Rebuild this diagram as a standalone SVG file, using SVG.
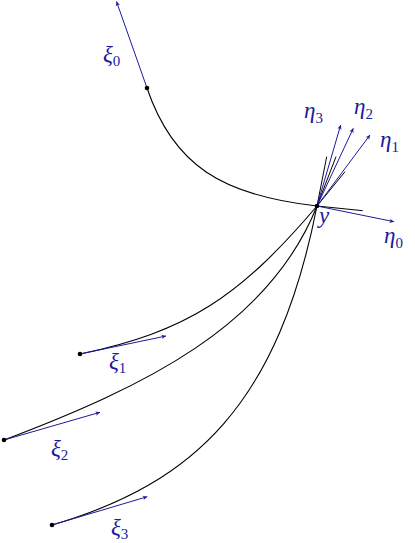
<svg xmlns="http://www.w3.org/2000/svg" width="415" height="543" viewBox="0 0 415 543">
<defs>
<marker id="ah" viewBox="-5 -3 6 6" refX="0" refY="0" markerWidth="6" markerHeight="6" markerUnits="userSpaceOnUse" orient="auto">
<path d="M0,0 L-4.5,-2.2 L-3.2,0 L-4.5,2.2 Z" fill="#1a1a9a"/>
</marker>
<style>
.crv{fill:none;stroke:#000;stroke-width:1.1}
.tan{fill:none;stroke:#000;stroke-width:1}
.vec{fill:none;stroke:#1a1a9a;stroke-width:1;marker-end:url(#ah)}
.dot{fill:#000}
.lbl{font-family:"Liberation Serif","Times New Roman",serif;font-style:italic;font-size:23px;fill:#1a1a9a}
.sub{font-family:"Liberation Serif","Times New Roman",serif;font-style:normal;font-size:15px;fill:#1a1a9a}
</style>
</defs>
<rect width="415" height="543" fill="#fff"/>
<g id="connectors">
<path class="crv" d="M147,88 C173,165 222,195.5 317,206"/>
<path class="crv" d="M80,354 C187.7,331.4 239.2,297.4 317,206"/>
<path class="crv" d="M4,440 C144.3,386.8 268.8,326.8 317,206"/>
<path class="crv" d="M52,525 C196,483 278.4,402.2 317,206"/>
<line class="tan" x1="317" y1="206" x2="362.7" y2="210.7"/>
<line class="tan" x1="317" y1="206" x2="345" y2="171.7"/>
<line class="tan" x1="317" y1="206" x2="336" y2="156.7"/>
<line class="tan" x1="317" y1="206" x2="326.7" y2="156.7"/>
<line class="vec" x1="147" y1="88" x2="116.5" y2="1.5"/>
<line class="vec" x1="80" y1="354" x2="166" y2="336"/>
<line class="vec" x1="4" y1="440" x2="100" y2="412.3"/>
<line class="vec" x1="52" y1="525" x2="147.3" y2="496.7"/>
<line class="vec" x1="317" y1="206" x2="394" y2="221.7"/>
<line class="vec" x1="317" y1="206" x2="370" y2="135"/>
<line class="vec" x1="317" y1="206" x2="353.3" y2="128.3"/>
<line class="vec" x1="317" y1="206" x2="340.7" y2="125"/>
</g>
<g id="x0"><circle class="dot" cx="147" cy="88" r="2.3"/><text class="lbl" x="103" y="62">ξ<tspan class="sub" dy="4">0</tspan></text></g>
<g id="x1"><circle class="dot" cx="80" cy="354" r="2.3"/><text class="lbl" x="109" y="369">ξ<tspan class="sub" dy="4">1</tspan></text></g>
<g id="x2"><circle class="dot" cx="4" cy="440" r="2.3"/><text class="lbl" x="51" y="456">ξ<tspan class="sub" dy="4">2</tspan></text></g>
<g id="x3"><circle class="dot" cx="52" cy="525" r="2.3"/><text class="lbl" x="111" y="535">ξ<tspan class="sub" dy="4">3</tspan></text></g>
<g id="y"><circle class="dot" cx="317" cy="206" r="2.3"/><text class="lbl" x="319" y="223">y</text>
<text class="lbl" x="384" y="243">η<tspan class="sub" dy="5">0</tspan></text>
<text class="lbl" x="380" y="147">η<tspan class="sub" dy="5">1</tspan></text>
<text class="lbl" x="354" y="114">η<tspan class="sub" dy="5">2</tspan></text>
<text class="lbl" x="304" y="118">η<tspan class="sub" dy="5">3</tspan></text>
</g>
</svg>
